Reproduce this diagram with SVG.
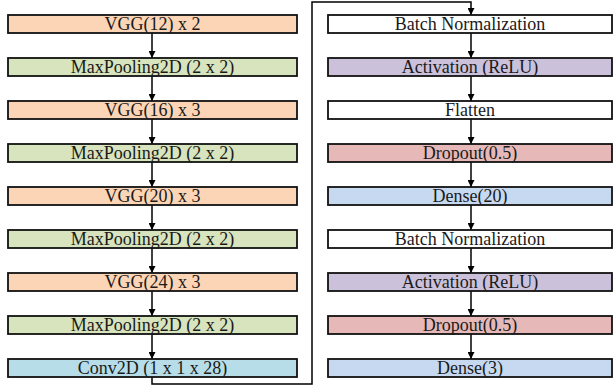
<svg xmlns="http://www.w3.org/2000/svg" width="613" height="387" viewBox="0 0 613 387">
<defs>
<marker id="ah" viewBox="0 0 10 10" refX="10" refY="5" markerWidth="7" markerHeight="7" markerUnits="userSpaceOnUse" orient="auto">
<path d="M0,0 L10,5 L0,10 z" fill="#000"/>
</marker>
<style>
rect{stroke:#111;stroke-width:1.8}
text{font-family:"Liberation Serif","Times New Roman",serif;font-size:18px;fill:#1a1a1a;text-anchor:middle;dominant-baseline:central}
.vgg{fill:#FBD5B5}.mp{fill:#D7E4BD}.cv{fill:#B7DEE8}.wh{fill:#FFFFFF}.act{fill:#CCC1DA}.dr{fill:#E6B9B8}.de{fill:#C6D9F1}
.c{fill:none;stroke:#000;stroke-width:1.5}
</style>
</defs>
<g id="connectors">
<path class="c" d="M152,33 V58" marker-end="url(#ah)"/>
<path class="c" d="M152,76 V101" marker-end="url(#ah)"/>
<path class="c" d="M152,119 V144" marker-end="url(#ah)"/>
<path class="c" d="M152,162 V187" marker-end="url(#ah)"/>
<path class="c" d="M152,205 V230" marker-end="url(#ah)"/>
<path class="c" d="M152,248 V273" marker-end="url(#ah)"/>
<path class="c" d="M152,291 V316" marker-end="url(#ah)"/>
<path class="c" d="M152,334 V359" marker-end="url(#ah)"/>
<path class="c" d="M152,377 V384 H312 V2 H471 V15" marker-end="url(#ah)"/>
<path class="c" d="M471,33 V58" marker-end="url(#ah)"/>
<path class="c" d="M471,76 V101" marker-end="url(#ah)"/>
<path class="c" d="M471,119 V144" marker-end="url(#ah)"/>
<path class="c" d="M471,162 V187" marker-end="url(#ah)"/>
<path class="c" d="M471,205 V230" marker-end="url(#ah)"/>
<path class="c" d="M471,248 V273" marker-end="url(#ah)"/>
<path class="c" d="M471,291 V316" marker-end="url(#ah)"/>
<path class="c" d="M471,334 V359" marker-end="url(#ah)"/>
</g>
<g id="n1"><rect class="vgg" x="8" y="15" width="289" height="18"/><text x="152.5" y="24">VGG(12) x 2</text></g>
<g id="n2"><rect class="mp" x="8" y="58" width="289" height="18"/><text x="152.5" y="67">MaxPooling2D (2 x 2)</text></g>
<g id="n3"><rect class="vgg" x="8" y="101" width="289" height="18"/><text x="152.5" y="110">VGG(16) x 3</text></g>
<g id="n4"><rect class="mp" x="8" y="144" width="289" height="18"/><text x="152.5" y="153">MaxPooling2D (2 x 2)</text></g>
<g id="n5"><rect class="vgg" x="8" y="187" width="289" height="18"/><text x="152.5" y="196">VGG(20) x 3</text></g>
<g id="n6"><rect class="mp" x="8" y="230" width="289" height="18"/><text x="152.5" y="239">MaxPooling2D (2 x 2)</text></g>
<g id="n7"><rect class="vgg" x="8" y="273" width="289" height="18"/><text x="152.5" y="282">VGG(24) x 3</text></g>
<g id="n8"><rect class="mp" x="8" y="316" width="289" height="18"/><text x="152.5" y="325">MaxPooling2D (2 x 2)</text></g>
<g id="n9"><rect class="cv" x="8" y="359" width="289" height="18"/><text x="152.5" y="368">Conv2D (1 x 1 x 28)</text></g>
<g id="m1"><rect class="wh" x="328" y="15" width="284" height="18"/><text x="470" y="24">Batch Normalization</text></g>
<g id="m2"><rect class="act" x="328" y="58" width="284" height="18"/><text x="470" y="67">Activation (ReLU)</text></g>
<g id="m3"><rect class="wh" x="328" y="101" width="284" height="18"/><text x="470" y="110">Flatten</text></g>
<g id="m4"><rect class="dr" x="328" y="144" width="284" height="18"/><text x="470" y="153">Dropout(0.5)</text></g>
<g id="m5"><rect class="de" x="328" y="187" width="284" height="18"/><text x="470" y="196">Dense(20)</text></g>
<g id="m6"><rect class="wh" x="328" y="230" width="284" height="18"/><text x="470" y="239">Batch Normalization</text></g>
<g id="m7"><rect class="act" x="328" y="273" width="284" height="18"/><text x="470" y="282">Activation (ReLU)</text></g>
<g id="m8"><rect class="dr" x="328" y="316" width="284" height="18"/><text x="470" y="325">Dropout(0.5)</text></g>
<g id="m9"><rect class="de" x="328" y="359" width="284" height="18"/><text x="470" y="368">Dense(3)</text></g>
</svg>
